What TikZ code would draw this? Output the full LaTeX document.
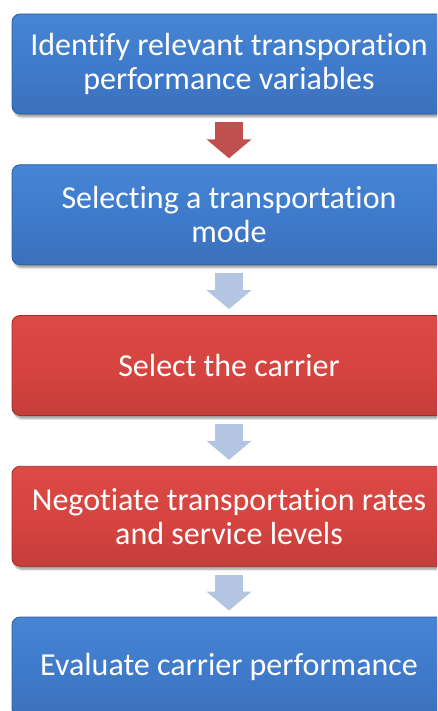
\documentclass[tikz,border=0pt]{standalone}
\usepackage{fontspec}
\setmainfont{Carlito}[Ligatures=NoCommon]
\usetikzlibrary{arrows.meta,shadows.blur}

\definecolor{blueHi}{HTML}{8CC0F4}
\definecolor{blueTop}{HTML}{4A8ADA}
\definecolor{blueMid}{HTML}{3F79C9}
\definecolor{blueBot}{HTML}{3566AD}
\definecolor{blueEdge}{HTML}{2F5C9E}
\definecolor{redHi}{HTML}{F8807C}
\definecolor{redTop}{HTML}{E24D49}
\definecolor{redMid}{HTML}{D4433F}
\definecolor{redBot}{HTML}{B03633}
\definecolor{redEdge}{HTML}{9A2E2B}
\definecolor{arrowRed}{HTML}{C0504D}
\definecolor{arrowPale}{HTML}{B4C5E1}

% glossy vertical gradients (0bp = bottom of the box)
\pgfdeclareverticalshading{blueGloss}{100bp}{%
  color(0bp)=(blueBot); color(45bp)=(blueMid); color(90bp)=(blueTop);
  color(96bp)=(blueHi); color(100bp)=(blueTop)}
\pgfdeclareverticalshading{redGloss}{100bp}{%
  color(0bp)=(redBot); color(45bp)=(redMid); color(90bp)=(redTop);
  color(96bp)=(redHi); color(100bp)=(redTop)}

\tikzset{
  x=1pt, y=-1pt,
  stepbox/.style={minimum width=434pt, minimum height=100pt, inner sep=0pt,
    rounded corners=8pt, text=white, align=center,
    font=\fontsize{32}{34}\selectfont,
    blur shadow={shadow xshift=2pt, shadow yshift=-3pt, shadow blur steps=6,
      shadow blur extra rounding=2pt, shadow opacity=40}},
  bluebox/.style={stepbox, shading=blueGloss, draw=blueEdge, line width=0.8pt},
  redbox/.style={stepbox, shading=redGloss, draw=redEdge, line width=0.8pt},
  flowarrow/.style={line width=28pt,
    -{Triangle[width=44pt, length=19pt]}, shorten <=8pt, shorten >=6pt},
}

\begin{document}
\begin{tikzpicture}
  \useasboundingbox (0,0) rectangle (437,711);
  \clip (0,0) rectangle (437,711);

  \node[bluebox] (b1) at (229,64)
    {Identify relevant transporation\\performance variables};
  \node[bluebox] (b2) at (229,214.75)
    {Selecting a transportation\\mode};
  \node[redbox]  (b3) at (229,365.5) {Select the carrier};
  \node[redbox]  (b4) at (229,516.25)
    {Negotiate transportation rates\\and service levels};
  \node[bluebox] (b5) at (229,667) {Evaluate carrier performance};

  \draw[flowarrow, arrowRed]  (b1) -- (b2);
  \draw[flowarrow, arrowPale] (b2) -- (b3);
  \draw[flowarrow, arrowPale] (b3) -- (b4);
  \draw[flowarrow, arrowPale] (b4) -- (b5);
\end{tikzpicture}
\end{document}
